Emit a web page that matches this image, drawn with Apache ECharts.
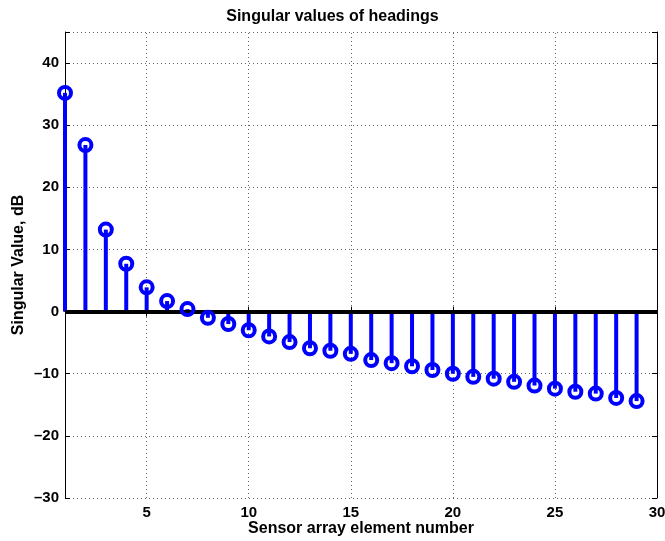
<!DOCTYPE html>
<html>
<head>
<meta charset="utf-8">
<script src="https://cdn.jsdelivr.net/npm/echarts@6/dist/echarts.min.js"></script>
<style>
  html, body { margin: 0; padding: 0; background: #fff; }
  #chart { width: 665px; height: 541px; }
</style>
</head>
<body>
<div id="chart"></div>
<script>
// sensor element index and singular value (dB)
const elements = [1, 2, 3, 4, 5, 6, 7, 8, 9, 10, 11, 12, 13, 14, 15, 16, 17, 18, 19, 20, 21, 22, 23, 24, 25, 26, 27, 28, 29];
const singularDb = [35.2, 26.8, 13.2, 7.7, 3.9, 1.7, 0.4, -1.0, -2.0, -3.0, -4.0, -4.9, -5.9, -6.3, -6.8, -7.8, -8.3, -8.8, -9.4, -10.0, -10.5, -10.8, -11.3, -11.9, -12.4, -12.9, -13.2, -13.9, -14.4];
const xTicks = [5, 10, 15, 20, 25, 30];
const yTicks = [-30, -20, -10, 0, 10, 20, 30, 40];

const FONT = '"Liberation Sans", Arial, Helvetica, sans-serif';
const BLUE = '#0000ff';
const GRID_DOTS = { color: '#666', type: [1, 3], width: 1 };
const tickFont = { fontFamily: FONT, fontSize: 15, fontWeight: 'bold', color: '#000' };
const nameFont = { fontFamily: FONT, fontSize: 16, fontWeight: 'bold', color: '#000' };

const points = elements.map((x, i) => [x, singularDb[i]]);
const dash = v => String(v).replace('-', '\u2013');

const chart = echarts.init(document.getElementById('chart'));

const option = {
  animation: false,
  title: {
    text: 'Singular values of headings',
    left: 'center',
    top: 4,
    textStyle: nameFont
  },
  grid: { left: 65, right: 8, top: 32, bottom: 43, outerBoundsMode: 'none' },
  xAxis: [
    {
      type: 'value', min: 1, max: 30,
      name: 'Sensor array element number',
      nameLocation: 'middle', nameGap: 23, nameMoveOverlap: false,
      nameTextStyle: nameFont,
      axisLine: { lineStyle: { color: '#000', width: 1 } },
      axisTick: { inside: true, length: 5, customValues: xTicks, lineStyle: { color: '#000' } },
      axisLabel: Object.assign({ margin: 7, customValues: xTicks, formatter: v => dash(v) }, tickFont),
      splitLine: { show: false }
    },
    {
      type: 'value', min: 1, max: 30, position: 'top',
      axisLine: { lineStyle: { color: '#000', width: 1 } },
      axisTick: { inside: true, length: 5, customValues: xTicks, lineStyle: { color: '#000' } },
      axisLabel: { show: false },
      splitLine: { show: false }
    }
  ],
  yAxis: [
    {
      type: 'value', min: -30, max: 45, interval: 10,
      name: 'Singular Value, dB',
      nameLocation: 'middle', nameGap: 38, nameMoveOverlap: false,
      nameTextStyle: nameFont,
      axisLine: { show: true, lineStyle: { color: '#000', width: 1 } },
      axisTick: { show: true, inside: true, length: 5, lineStyle: { color: '#000' } },
      axisLabel: Object.assign({ margin: 6, formatter: v => (yTicks.includes(v) ? dash(v) : '') }, tickFont),
      splitLine: { show: true, lineStyle: GRID_DOTS }
    },
    {
      type: 'value', min: -30, max: 45, interval: 10, position: 'right',
      axisLine: { show: true, lineStyle: { color: '#000', width: 1 } },
      axisTick: { show: true, inside: true, length: 5, lineStyle: { color: '#000' } },
      axisLabel: { show: false },
      splitLine: { show: false }
    }
  ],
  series: [
    {
      // vertical dotted grid at the x tick positions
      name: 'xgrid',
      type: 'line',
      data: [],
      silent: true,
      z: 0,
      markLine: {
        silent: true,
        z: 0,
        symbol: 'none',
        label: { show: false },
        lineStyle: GRID_DOTS,
        data: xTicks.filter(v => v < 30).map(v => ({ xAxis: v }))
      }
    },
    {
      name: 'stems',
      type: 'bar',
      data: points,
      barWidth: 4,
      itemStyle: { color: BLUE },
      z: 2
    },
    {
      name: 'heads',
      type: 'scatter',
      data: points,
      symbol: 'circle',
      symbolSize: 12,
      itemStyle: { color: 'rgba(0,0,0,0)', borderColor: BLUE, borderWidth: 4, opacity: 1 },
      z: 4,
      markLine: {
        silent: true,
        z: 3,
        symbol: 'none',
        label: { show: false },
        lineStyle: { color: '#000', width: 4, type: 'solid' },
        data: [{ yAxis: 0 }]
      }
    }
  ]
};

chart.setOption(option);
</script>
</body>
</html>
